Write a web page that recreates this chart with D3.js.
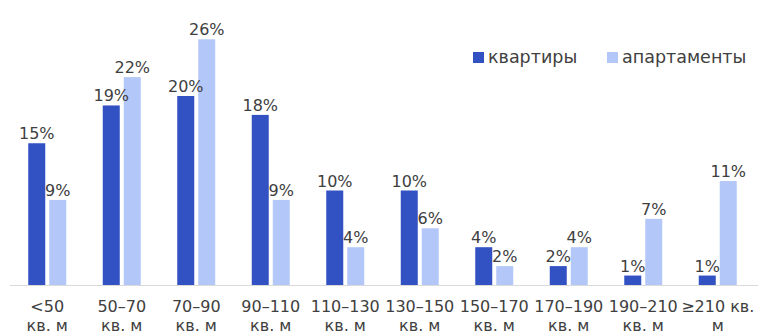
<!DOCTYPE html>
<html>
<head>
<meta charset="utf-8">
<script src="https://cdn.jsdelivr.net/npm/d3@7"></script>
<style>
  body { margin: 0; background: #fff; }
  svg { display: block; font-family: "DejaVu Sans", Verdana, sans-serif; }
</style>
</head>
<body>
<svg width="758" height="334"></svg>
<script>
// категории и значения (%)
var categories = ["<50", "50–70", "70–90", "90–110", "110–130", "130–150", "150–170", "170–190", "190–210", "≥210"]
var tickLines = [["<50", "кв. м"], ["50–70", "кв. м"], ["70–90", "кв. м"], ["90–110", "кв. м"],
    ["110–130", "кв. м"], ["130–150", "кв. м"], ["150–170", "кв. м"], ["170–190", "кв. м"],
    ["190–210", "кв. м"], ["≥210 кв.", "м"]]
var seriesNames = ["квартиры", "апартаменты"]
var flats = [15, 19, 20, 18, 10, 10, 4, 2, 1, 1]
var apartments = [9, 22, 26, 9, 4, 6, 2, 4, 7, 11]
var colors = ["#3251c3", "#b4c7f9"]

var svg = d3.select("svg")

var x = d3.scaleBand().domain(categories).range([10, 755])
var x1 = d3.scaleBand().domain(seriesNames).range([-19, 19]).paddingInner(0.19)
var y = d3.scaleLinear().domain([0, 30]).range([285, 1.5])

var rows = []
categories.forEach(function (c, i) {
    rows.push({cat: c, s: seriesNames[0], v: flats[i]})
    rows.push({cat: c, s: seriesNames[1], v: apartments[i]})
})

// бары
svg.selectAll("rect.bar").data(rows).enter().append("rect")
    .attr("class", "bar")
    .attr("x", d => x(d.cat) + x.bandwidth() / 2 + x1(d.s))
    .attr("width", x1.bandwidth())
    .attr("y", d => y(d.v))
    .attr("height", d => y(0) - y(d.v))
    .attr("fill", d => colors[seriesNames.indexOf(d.s)])

// подписи
svg.selectAll("text.lbl").data(rows).enter().append("text")
    .attr("class", "lbl")
    .attr("x", d => x(d.cat) + x.bandwidth() / 2 + x1(d.s) + x1.bandwidth() / 2)
    .attr("y", d => y(d.v) - 4)
    .attr("text-anchor", "middle")
    .attr("font-size", 16)
    .attr("fill", "#404040")
    .text(d => d.v + "%")

// ось X
svg.append("line")
    .attr("x1", 10).attr("x2", 758)
    .attr("y1", y(0) + 0.5).attr("y2", y(0) + 0.5)
    .attr("stroke", "#d9d9d9")

var ticks = svg.selectAll("text.tick").data(categories).enter().append("text")
    .attr("class", "tick")
    .attr("text-anchor", "middle")
    .attr("font-size", 16)
    .attr("fill", "#404040")
ticks.each(function (c, i) {
    var t = d3.select(this)
    tickLines[i].forEach(function (line, k) {
        t.append("tspan")
            .attr("x", x(c) + x.bandwidth() / 2)
            .attr("y", 312 + k * 19)
            .text(line)
    })
})

// легенда
var legX = [473, 607]
var leg = svg.selectAll("g.leg").data(seriesNames).enter().append("g")
    .attr("class", "leg")
    .attr("transform", (d, i) => "translate(" + legX[i] + ",52)")
leg.append("rect").attr("width", 11).attr("height", 11)
    .attr("fill", (d, i) => colors[i])
leg.append("text").attr("x", 15).attr("y", 11)
    .attr("font-size", 17.5)
    .attr("fill", "#404040")
    .text(d => d)
</script>
</body>
</html>
